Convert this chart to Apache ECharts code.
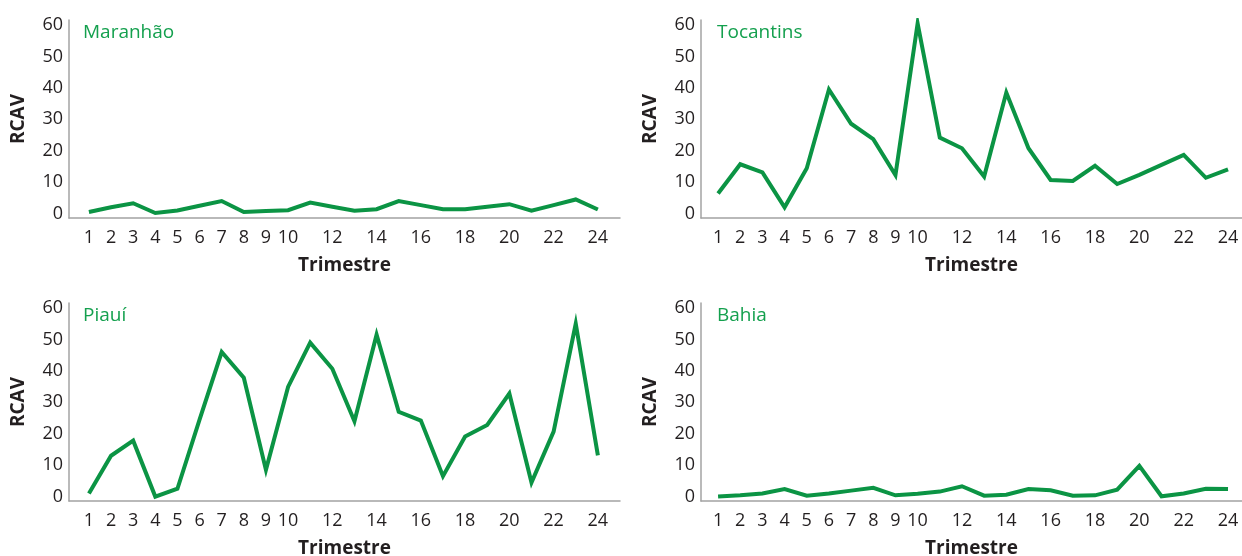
<!DOCTYPE html>
<html>
<head>
<meta charset="utf-8">
<script src="https://cdn.jsdelivr.net/npm/echarts@6/dist/echarts.min.js"></script>
<style>
  html, body { margin: 0; padding: 0; background: #fff; }
  #chart { width: 1242px; height: 556px; }
</style>
</head>
<body>
<div id="chart"></div>
<script>
// Quarter index (Trimestre) for each observation
const trimestres = [1, 2, 3, 4, 5, 6, 7, 8, 9, 10, 11, 12, 13, 14, 15, 16, 17, 18, 19, 20, 21, 22, 23, 24];
// Tick labels shown on the axes
const xTickLabels = [1, 2, 3, 4, 5, 6, 7, 8, 9, 10, 12, 14, 16, 18, 20, 22, 24];
const yTickLabels = [0, 10, 20, 30, 40, 50, 60];

// RCAV per state
const maranhao = [0.5, 2.0, 3.3, 0.2, 1.0, 2.5, 4.0, 0.5, 0.8, 1.1, 3.5, 2.2, 0.9, 1.4, 4.0, 2.7, 1.4, 1.4, 2.2, 3.0, 0.9, 2.7, 4.5, 1.3];
const tocantins = [6.4, 15.7, 13.1, 2.0, 14.4, 39.5, 28.6, 23.7, 12.3, 60.5, 24.2, 20.8, 11.8, 38.5, 20.8, 10.7, 10.4, 15.2, 9.4, 12.3, 15.5, 18.7, 11.4, 14.1];
const piaui     = [1.0, 13.0, 17.8, 0.0, 2.5, 24.5, 46.0, 37.8, 8.5, 34.9, 49.0, 40.7, 24.0, 51.5, 27.0, 24.2, 6.5, 19.1, 22.8, 32.8, 4.5, 20.7, 55.0, 13.1];
const bahia     = [0.0, 0.4, 1.0, 2.4, 0.3, 1.0, 1.9, 2.8, 0.4, 0.9, 1.6, 3.3, 0.3, 0.6, 2.4, 2.0, 0.3, 0.4, 2.2, 9.8, 0.1, 1.0, 2.5, 2.4];

const states = ['Maranhão', 'Tocantins', 'Piauí', 'Bahia'];
const values = [maranhao, tocantins, piaui, bahia];

const LINE_GREEN = '#0b9444';
const TITLE_GREEN = '#14a04e';
const INK = '#231f20';
const FONT = '"Open Sans", "Noto Sans", sans-serif';

// Panel geometry: two columns, two rows
const cols = [
  { left: 69, width: 551, xMin: 0.1, xMax: 25.0, titleLeft: 83 },
  { left: 701, width: 541, xMin: 0.23, xMax: 24.63, titleLeft: 717 }
];
const rows = [
  { top: 20, titleTop: 22 },
  { top: 303, titleTop: 305 }
];
const GRID_H = 198;

const grids = [], xAxes = [], yAxes = [], series = [], titles = [];

states.forEach((name, i) => {
  const c = cols[i % 2];
  const r = rows[Math.floor(i / 2)];
  grids.push({
    left: c.left, top: r.top, width: c.width, height: GRID_H,
    containLabel: false, outerBoundsMode: 'none'
  });
  xAxes.push({
    type: 'value', gridIndex: i, min: c.xMin, max: c.xMax,
    name: 'Trimestre', nameLocation: 'middle', nameGap: 38,
    nameTextStyle: { fontFamily: FONT, fontSize: 19, fontWeight: 'bold', color: INK },
    axisLine: { show: true, onZero: false, lineStyle: { color: '#a3a3a3', width: 1.5 } },
    axisTick: { show: false },
    splitLine: { show: false },
    axisLabel: {
      customValues: xTickLabels, margin: 11,
      fontFamily: FONT, fontSize: 18, color: INK
    }
  });
  yAxes.push({
    type: 'value', gridIndex: i, min: -1.4, max: 61.6,
    name: 'RCAV', nameLocation: 'middle', nameRotate: 90, nameGap: 41,
    nameTextStyle: { fontFamily: FONT, fontSize: 19, fontWeight: 'bold', color: INK },
    axisLine: { show: true, lineStyle: { color: '#a3a3a3', width: 1.5 } },
    axisTick: { show: false },
    splitLine: { show: false },
    axisLabel: {
      customValues: yTickLabels, margin: 6,
      fontFamily: FONT, fontSize: 18, color: INK,
      padding: [0, 0, 3, 0]
    }
  });
  titles.push({
    text: name, left: c.titleLeft, top: r.titleTop, padding: 0,
    textStyle: { fontFamily: FONT, fontSize: 19, fontWeight: 'normal', color: TITLE_GREEN, lineHeight: 22 }
  });
  series.push({
    type: 'line', xAxisIndex: i, yAxisIndex: i,
    data: trimestres.map((t, k) => [t, values[i][k]]),
    symbol: 'none', silent: true,
    lineStyle: { color: LINE_GREEN, width: 4, join: 'miter', miterLimit: 10 }
  });
});

const chart = echarts.init(document.getElementById('chart'), null, { renderer: 'canvas' });
chart.setOption({
  animation: false,
  backgroundColor: '#ffffff',
  title: titles,
  grid: grids,
  xAxis: xAxes,
  yAxis: yAxes,
  series: series
});
</script>
</body>
</html>
